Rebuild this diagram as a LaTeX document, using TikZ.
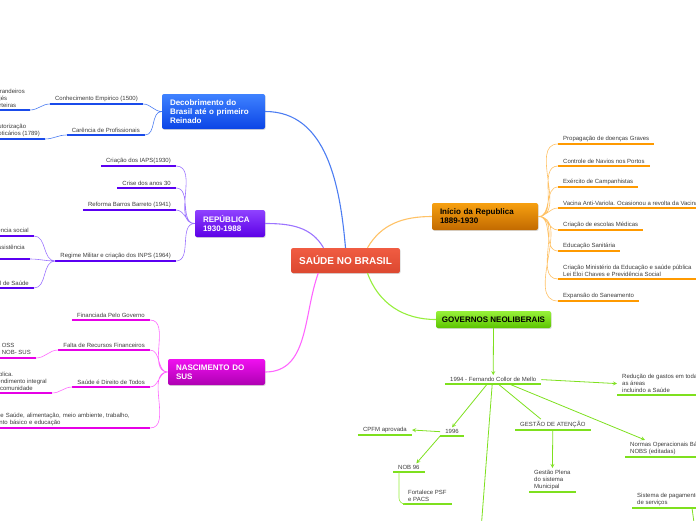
\documentclass[tikz,border=0pt]{standalone}
\usepackage{fontspec}
\setmainfont{Liberation Sans}
\usetikzlibrary{shapes.geometric, arrows, shadows}

\definecolor{redtop}{HTML}{F05C42}
\definecolor{redbot}{HTML}{DC4830}
\definecolor{bluetop}{HTML}{3F82FF}
\definecolor{bluebot}{HTML}{0B45E6}
\definecolor{blueline}{HTML}{1A4BEA}
\definecolor{bluelink}{HTML}{4C7DF2}
\definecolor{purptop}{HTML}{8F42FF}
\definecolor{purpbot}{HTML}{5C00E6}
\definecolor{purpline}{HTML}{5B00F2}
\definecolor{purplink}{HTML}{9C74FF}
\definecolor{magtop}{HTML}{F010F0}
\definecolor{magbot}{HTML}{AE00B2}
\definecolor{magline}{HTML}{E600E6}
\definecolor{maglink}{HTML}{FF66FF}
\definecolor{orgtop}{HTML}{F7A010}
\definecolor{orgbot}{HTML}{C26A00}
\definecolor{orgline}{HTML}{FF9A00}
\definecolor{orglink}{HTML}{FFC266}
\definecolor{grntop}{HTML}{98F23A}
\definecolor{grnbot}{HTML}{5CC400}
\definecolor{grnline}{HTML}{7EE01E}
\definecolor{grnlink}{HTML}{96EE3C}
\definecolor{leaftext}{HTML}{3C3C3C}

\tikzstyle{topic} = [rectangle, rounded corners=2pt, text=white, align=left, inner xsep=8pt,
inner ysep=3pt, font=\bfseries\fontsize{8}{9}\selectfont, drop shadow={shadow xshift=0.7pt,
  shadow yshift=-0.9pt, opacity=0.3}]
\tikzstyle{central} = [topic, align=center, font=\bfseries\fontsize{10}{12}\selectfont,
minimum width=107pt, minimum height=25pt, top color=redtop, bottom color=redbot]
\tikzstyle{trunk} = [line width=1.1pt]
\tikzstyle{twig} = [line width=0.6pt]
\tikzstyle{arrow} = [line width=0.8pt, grnline, ->, >=stealth]
\tikzset{leaf/.style={font=\fontsize{6}{7}\selectfont, text=leaftext, align=left, inner xsep=5pt,
    inner ysep=2pt, append after command={(\tikzlastnode.south west) edge[line width=2pt, #1]
      (\tikzlastnode.south east)}}}

\begin{document}
\begin{tikzpicture}[x=1pt, y=1pt]
  \path[use as bounding box, clip] (0,0) rectangle (696,-520);

  % centre and main topics
  \node (brasil) [central] at (345.5,-260.5) {SAÚDE NO BRASIL};

  \node (desc) [topic, top color=bluetop, bottom color=bluebot, text width=87pt, minimum
  height=35pt] at (213.5,-111.5) {Decobrimento do\\Brasil até o primeiro\\Reinado};
  \node (rep) [topic, top color=purptop, bottom color=purpbot, text width=54pt, minimum
  height=27pt] at (230,-223.5) {REPÚBLICA\\1930-1988};
  \node (sus) [topic, top color=magtop, bottom color=magbot, text width=81pt, minimum
  height=26pt] at (216.5,-372) {NASCIMENTO DO\\SUS};
  \node (ini) [topic, text=black, top color=orgtop, bottom color=orgbot, text width=90pt, minimum
  height=27pt] at (485,-216.5) {Início da Republica\\1889-1930};
  \node (gov) [topic, text=black, align=center, top color=grntop, bottom color=grnbot, minimum
  width=115pt, minimum height=17pt, inner xsep=4pt] at (493.5,-319.5) {GOVERNOS NEOLIBERAIS};

  \draw[trunk, bluelink] (brasil.north) to[out=95, in=0] (desc.east);
  \draw[trunk, purplink] (brasil.150) to[out=120, in=0] (rep.east);
  \draw[trunk, maglink] (brasil.-155) to[out=-110, in=0] (sus.east);
  \draw[trunk, orglink] (brasil.30) to[out=60, in=180] (ini.west);
  \draw[trunk, grnlink] (brasil.-30) to[out=-70, in=180] (gov.west);

  % descobrimento
  \node (empirico) [leaf=blueline, anchor=south east] at (143,-104) {Conhecimento Empirico (1500)};
  \node (curand) [leaf=blueline, anchor=south east] at (30,-110) {Curandeiros\\Pajés\\Parteiras};
  \node (carencia) [leaf=blueline, anchor=south east] at (145,-135) {Carência de Profissionais};
  \node (botic) [leaf=blueline, anchor=south east] at (45,-139) {Autorização\\Boticários (1789)};

  \draw[twig, bluelink] (desc.west) to[out=180, in=0] (empirico.south east)
  (desc.west) to[out=180, in=0] (carencia.south east)
  (empirico.south west) to[out=180, in=0] (curand.south east)
  (carencia.south west) to[out=180, in=0] (botic.south east);

  % republica
  \node (iaps) [leaf=purpline, anchor=south east] at (176,-166) {Criação dos IAPS(1930)};
  \node (crise) [leaf=purpline, anchor=south east] at (176,-188) {Crise dos anos 30};
  \node (barros) [leaf=purpline, anchor=south east] at (176,-210) {Reforma Barros Barreto (1941)};
  \node (inps) [leaf=purpline, anchor=south east] at (176,-261) {Regime Militar e criação dos INPS (1964)};
  \node (prev) [leaf=purpline, anchor=south east] at (34,-236) {Unificação da previdência social};
  \node (assist) [leaf=purpline, anchor=south east] at (30,-259) {Privatização da assistência\\médica};
  \node (sns) [leaf=purpline, anchor=south east] at (34,-288) {Sistema Nacional de Saúde};

  \draw[twig, purplink] (rep.west) to[out=180, in=0] (iaps.south east)
  (rep.west) to[out=180, in=0] (crise.south east)
  (rep.west) to[out=180, in=0] (barros.south east)
  (rep.west) to[out=180, in=0] (inps.south east)
  (inps.south west) to[out=180, in=0] (prev.south east)
  (inps.south west) to[out=180, in=0] (assist.south east)
  (inps.south west) to[out=180, in=0] (sns.south east);

  % nascimento do sus
  \node (financ) [leaf=magline, anchor=south east] at (150,-320) {Financiada Pelo Governo};
  \node (falta) [leaf=magline, anchor=south east] at (150,-350) {Falta de Recursos Financeiros};
  \node (direito) [leaf=magline, anchor=south east] at (150,-387) {Saúde é Direito de Todos};
  \node (fatores) [leaf=magline, anchor=south east, text width=170pt] at (150,-428) {Fatores de
    Saúde, alimentação, meio ambiente, trabalho,\\saneamento básico e educação};
  \node (oss) [leaf=magline, anchor=south east] at (36,-358) {Criação da OSS\\Criação da NOB- SUS};
  \node (integral) [leaf=magline, anchor=south east] at (52,-393) {Pública.\\Atendimento integral\\da comunidade};

  \draw[twig, maglink] (sus.west) to[out=180, in=0] (financ.south east)
  (sus.west) to[out=180, in=0] (falta.south east)
  (sus.west) to[out=180, in=0] (direito.south east)
  (sus.west) to[out=180, in=0] (fatores.south east)
  (falta.south west) to[out=180, in=0] (oss.south east)
  (direito.south west) to[out=180, in=0] (integral.south east);

  % inicio da republica
  \node (propag) [leaf=orgline, anchor=south west] at (558,-144) {Propagação de doenças Graves};
  \node (navios) [leaf=orgline, anchor=south west] at (558,-166) {Controle de Navios nos Portos};
  \node (campanha) [leaf=orgline, anchor=south west] at (558,-187) {Exército de Campanhistas};
  \node (vacina) [leaf=orgline, anchor=south west] at (558,-208) {Vacina Anti-Variola. Ocasionou a revolta da Vacina};
  \node (escolas) [leaf=orgline, anchor=south west] at (558,-230) {Criação de escolas Médicas};
  \node (educ) [leaf=orgline, anchor=south west] at (558,-251) {Educação Sanitária};
  \node (minist) [leaf=orgline, anchor=south west] at (558,-279) {Criação Ministério da Educação e
    saúde pública\\Lei Eloi Chaves e Previdência Social};
  \node (saneam) [leaf=orgline, anchor=south west] at (558,-301) {Expansão do Saneamento};

  \draw[twig, orglink] (ini.east) to[out=0, in=180] (propag.south west)
  (ini.east) to[out=0, in=180] (navios.south west)
  (ini.east) to[out=0, in=180] (campanha.south west)
  (ini.east) to[out=0, in=180] (vacina.south west)
  (ini.east) to[out=0, in=180] (escolas.south west)
  (ini.east) to[out=0, in=180] (educ.south west)
  (ini.east) to[out=0, in=180] (minist.south west)
  (ini.east) to[out=0, in=180] (saneam.south west);

  % governos neoliberais
  \node (collor) [leaf=grnline, anchor=south west] at (445,-384) {1994 - Fernando Collor de Mello};
  \node (reducao) [leaf=grnline, anchor=south west] at (617,-395) {Redução de gastos em todas\\as
    áreas\\incluindo a Saúde};
  \node (ano96) [leaf=grnline, anchor=south] at (452,-436) {1996};
  \node (cpmf) [leaf=grnline, anchor=south east] at (412,-435) {CPFM aprovada};
  \node (nob96) [leaf=grnline, anchor=south west] at (393,-472) {NOB 96};
  \node (psf) [leaf=grnline, anchor=south west] at (403,-504) {Fortalece PSF\\e PACS};
  \node (gestao) [leaf=grnline, anchor=south west] at (515,-430) {GESTÃO DE ATENÇÃO};
  \node (plena) [leaf=grnline, anchor=south west] at (529,-492) {Gestão Plena\\do sistema\\Municipal};
  \node (normas) [leaf=grnline, anchor=south west] at (625,-457) {Normas Operacionais Básicas\\NOBS (editadas)};
  \node (pagto) [leaf=grnline, anchor=south west] at (632,-508) {Sistema de pagamento\\de serviços};
  \coordinate (offcollor) at (481,-530);
  \coordinate (offpagto) at (695,-530);

  \draw[arrow] (gov.south) -- (collor.north);
  \draw[arrow] (collor.east) -- (reducao.west);
  \draw[arrow] ([xshift=-6pt]collor.south) -- (ano96.north);
  \draw[arrow] ([xshift=-1pt]collor.south) -- (offcollor);
  \draw[line width=0.8pt, grnline] ([xshift=5pt]collor.south) -- ([xshift=-12pt]gestao.north);
  \draw[arrow] ([xshift=16pt]collor.south) -- ([xshift=20pt]normas.north west);
  \draw[arrow] (ano96.west) -- (cpmf.east);
  \draw[arrow] (ano96.south west) -- (nob96.30);
  \draw[twig, grnlink, rounded corners=6pt] ([xshift=6pt]nob96.south west) |- (psf.south west);
  \draw[arrow] (gestao.south) -- (plena.north);
  \draw[arrow] ([xshift=60pt]pagto.south west) -- (offpagto);
\end{tikzpicture}
\end{document}
